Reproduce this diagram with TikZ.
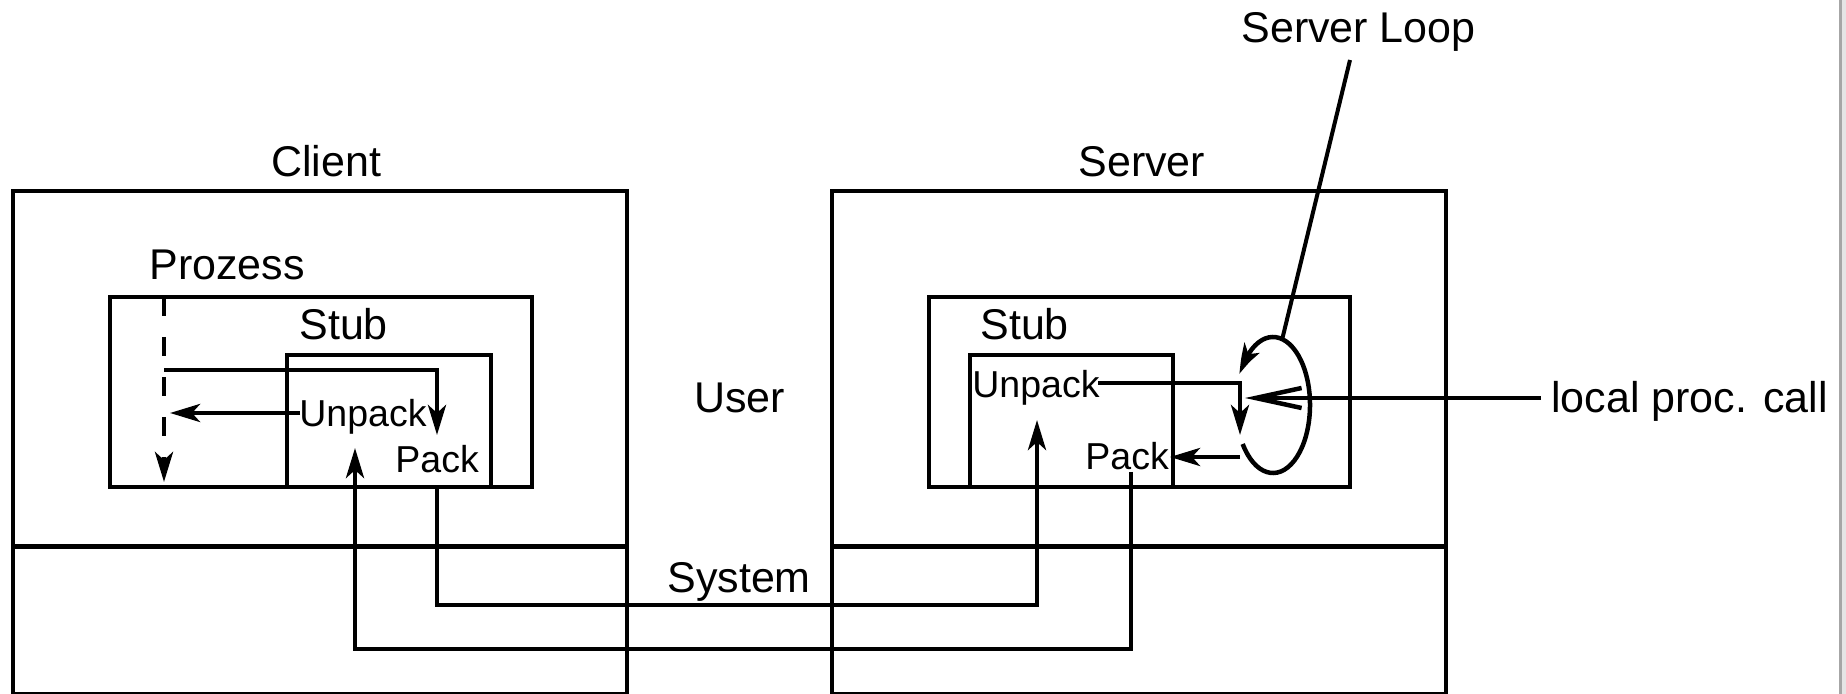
\documentclass[tikz,border=0pt]{standalone}
\usepackage{fontspec}
\setmainfont{Liberation Sans}
\usetikzlibrary{arrows.meta,bending}
\begin{document}
\begin{tikzpicture}[x=0.5pt,y=-0.5pt,
  box/.style={line width=2.25pt},
  conn/.style={line width=2.25pt},
  arr/.style={conn,-{Stealth[length=15pt,width=9pt,inset=4pt]}},
  barb/.style={conn,-{Straight Barb[length=23pt,width=10pt]}},
  lbl/.style={inner sep=0pt,anchor=base west,font=\fontsize{21.5pt}{25pt}\selectfont},
  slbl/.style={lbl,font=\fontsize{18.75pt}{22pt}\selectfont},
]
\useasboundingbox (0,0) rectangle (1846,694);
\fill[white] (0,0) rectangle (1846,694);
% page edge
\fill[gray!20] (1842,0) rectangle (1846,694);
\draw[line width=1.5pt, gray!70] (1840,0) -- (1840,694);

% ---- boxes
\draw[box] (13,191) rectangle (627,694);
\draw[box] (13,546.5) -- (627,546.5);
\draw[box] (832,191) rectangle (1446,694);
\draw[box] (832,546.5) -- (1446,546.5);
\draw[box] (110,297) rectangle (532,487);
\draw[box] (287,355) rectangle (491,487);
\draw[box] (929,297) rectangle (1350,487);
\draw[box] (970,355) rectangle (1173,487);

% ---- labels
\node[lbl] (client) at (271,177) {Client};
\node[lbl] (server) at (1078,177) {Server};
\node[lbl] (prozess) at (149,280) {Prozess};
\node[lbl] (cstub) at (299,340) {Stub};
\node[slbl] (cUnpack) at (299,427) {Unpack};
\node[slbl] (cPack) at (395,473) {Pack};
\node[lbl] (user) at (694,413) {User};
\node[lbl] (system) at (667,592) {System};
\node[lbl] (sstub) at (980,340) {Stub};
\node[slbl] (sUnpack) at (972,398) {Unpack};
\node[slbl] (sPack) at (1085,470) {Pack};
\node[lbl] (sloop) at (1241,43) {Server Loop};
\node[lbl] (lpc) at (1551,413) {local proc. call};

% ---- client connectors
\coordinate (cdash0) at (164,297);
\coordinate (cdash1) at (164,482);
\draw[arr, dash pattern=on 9.5pt off 10.5pt] (cdash0) -- (cdash1);
\coordinate (ccall) at (164,370);
\coordinate (ccallend) at (437,435);
\draw[arr] (ccall) -| (ccallend);
\coordinate (cretend) at (170,413);
\draw[arr] ([shift={(1,-14)}]cUnpack.base west) -- (cretend);

% ---- network connectors
\coordinate (cpackout) at (437,488);
\coordinate (sunpackin) at (1037,420);
\draw[arr] (cpackout) -- ++(0,117) -| (sunpackin);
\coordinate (spackout) at (1131,472);
\coordinate (cunpackin) at (355,448);
\draw[arr] (spackout) -- ++(0,177) -| (cunpackin);

% ---- server connectors
\coordinate (sunpackout) at (1098,383);
\coordinate (scalltip) at (1240,435);
\draw[arr] (sunpackout) -| (scalltip);
\coordinate (sret) at (1240,457);
\coordinate (spacktip) at (1170,457);
\draw[arr] (sret) -- (spacktip);
\coordinate (lpcstart) at (1541,398);
\coordinate (lpctip) at (1245,398);
\draw[barb] (lpcstart) -- (lpctip);

% ---- server loop
\coordinate (loopc) at (1273,405);
\coordinate (looptop) at (1282,340);
\coordinate (sloopfoot) at (1350,60);
\draw[line width=2pt] (sloopfoot) -- (looptop);
\draw[conn,-{Stealth[length=15pt,width=9pt,inset=4pt,bend]}] ([shift={(145:37 and 68)}]loopc) arc[start angle=145,end angle=-153,x radius=37,y radius=68];
\end{tikzpicture}
\end{document}
